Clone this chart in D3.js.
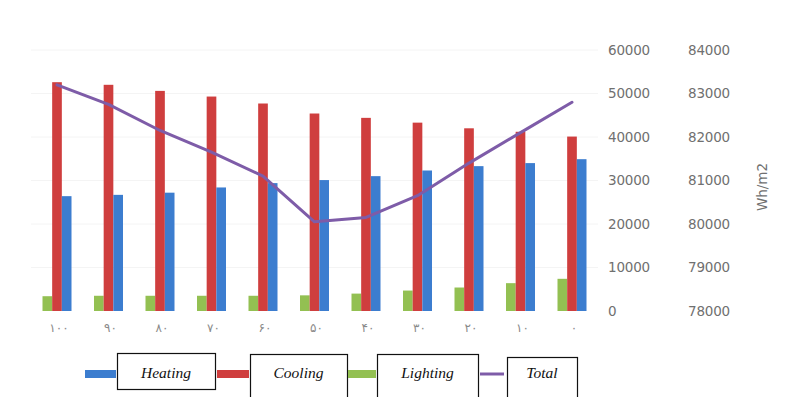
<!DOCTYPE html>
<html><head><meta charset="utf-8">
<script src="https://cdn.jsdelivr.net/npm/d3@7"></script>
<style>body{margin:0;background:#fff}svg{display:block}</style>
</head><body>
<svg id="c" width="795" height="397"></svg>
<script>
const categories = ["۱۰۰","۹۰","۸۰","۷۰","۶۰","۵۰","۴۰","۳۰","۲۰","۱۰","۰"];
const heating  = [26400,26700,27200,28400,29400,30100,31000,32300,33300,34000,34900];
const cooling  = [52600,52000,50600,49300,47700,45400,44400,43300,42000,41200,40100];
const lighting = [3400,3500,3500,3500,3500,3600,4000,4700,5400,6400,7400];
const total    = [83200,82750,82150,81650,81100,80050,80150,80650,81400,82100,82800];
const leftTicks  = [0,10000,20000,30000,40000,50000,60000];
const rightTicks = [78000,79000,80000,81000,82000,83000,84000];
const barOrder = ["Lighting","Cooling","Heating"];
const legendItems = ["Heating","Cooling","Lighting","Total"];

const colors = {Heating:"#3c7dcf", Cooling:"#cf3e3e", Lighting:"#93c052", Total:"#7e5ca8"};
const seriesData = {Heating:heating, Cooling:cooling, Lighting:lighting};

const svg = d3.select("#c");
const x = d3.scaleBand().domain(categories).range([31.25, 597.75]).padding(0);
const y = d3.scaleLinear().domain([0,60000]).range([311,50]);
const yR = d3.scaleLinear().domain([78000,84000]).range([311,50]);
const bw = x.bandwidth();
const x1 = d3.scaleBand().domain(barOrder).range([bw/2-14.5, bw/2+14.5]).padding(0);

// faint gridlines
svg.append("g").selectAll("line").data(leftTicks.slice(1)).join("line")
  .attr("x1",31).attr("x2",598).attr("y1",d=>y(d)).attr("y2",d=>y(d))
  .attr("stroke","#f4f4f4").attr("stroke-width",1);

// bars
const g = svg.append("g");
categories.forEach((c,i)=>{
  barOrder.forEach(s=>{
    const v = seriesData[s][i];
    g.append("rect")
      .attr("x", x(c)+x1(s)).attr("width", x1.bandwidth())
      .attr("y", y(v)).attr("height", y(0)-y(v))
      .attr("fill", colors[s]);
  });
});

// total line
const line = d3.line().x((d,i)=>x(categories[i])+bw/2).y(d=>yR(d));
svg.append("path").datum(total).attr("d",line)
  .attr("fill","none").attr("stroke",colors.Total).attr("stroke-width",3)
  .attr("stroke-linejoin","round").attr("stroke-linecap","round");

// x labels
svg.append("g").selectAll("text").data(categories).join("text")
  .attr("x", d=>x(d)+bw/2+2).attr("y", 332)
  .attr("text-anchor","middle")
  .attr("font-family","DejaVu Sans, sans-serif").attr("font-size",12)
  .attr("letter-spacing","4px")
  .attr("fill","#8a8a8a").text(d=>d);

// left axis
const axL = d3.axisRight(y).tickValues(leftTicks).tickSize(0).tickPadding(0).tickFormat(d3.format("d"));
const gL = svg.append("g").attr("transform","translate(608,0)").call(axL);
gL.select(".domain").remove();
gL.selectAll("text").attr("font-family","DejaVu Sans, sans-serif").attr("font-size",13.5)
  .attr("fill","#707070").attr("text-anchor","start").attr("letter-spacing","-0.2px");

// right axis
const axR = d3.axisRight(yR).tickValues(rightTicks).tickSize(0).tickPadding(0).tickFormat(d3.format("d"));
const gR = svg.append("g").attr("transform","translate(688,0)").call(axR);
gR.select(".domain").remove();
gR.selectAll("text").attr("font-family","DejaVu Sans, sans-serif").attr("font-size",13.5)
  .attr("fill","#707070").attr("text-anchor","start").attr("letter-spacing","-0.2px");

// axis title
svg.append("text").attr("transform","translate(767,187) rotate(-90)")
  .attr("text-anchor","middle").attr("font-family","DejaVu Sans, sans-serif")
  .attr("font-size",13.5).attr("fill","#707070").text("Wh/m2");

// legend
const legendLayout = [
  {sw:[85,116], box:[117,353,98,36]},
  {sw:[217,249], box:[250,354,97,45]},
  {sw:[348,376], box:[377,354,101,45]},
  {sw:[480,504], box:[507,357,70,42]}
];
const lg = svg.append("g");
legendItems.forEach((name,i)=>{
  const L = legendLayout[i];
  lg.append("line").attr("x1",L.sw[0]).attr("x2",L.sw[1]).attr("y1",374).attr("y2",374)
    .attr("stroke",colors[name]).attr("stroke-width", name==="Total"?3:8);
  lg.append("rect").attr("x",L.box[0]+0.5).attr("y",L.box[1]+0.5)
    .attr("width",L.box[2]).attr("height",L.box[3])
    .attr("fill","#fff").attr("stroke","#111").attr("stroke-width",1.2);
  lg.append("text").attr("x",L.box[0]+L.box[2]/2).attr("y",378)
    .attr("text-anchor","middle").attr("font-family","Liberation Serif, serif")
    .attr("font-style","italic").attr("font-size",15.5).attr("fill","#111").text(name);
});
</script>
</body></html>
